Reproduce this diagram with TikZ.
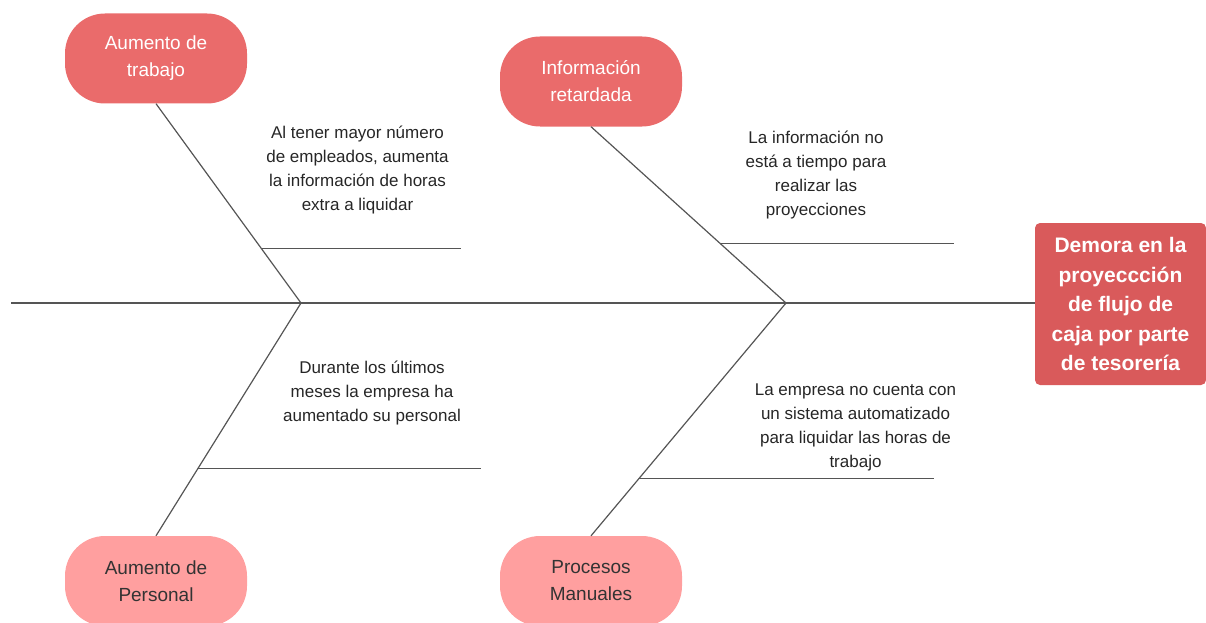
\documentclass[tikz,border=0pt]{standalone}
\usepackage{fontspec}
\setmainfont{Liberation Sans}
\usetikzlibrary{calc}
\definecolor{causetop}{HTML}{EA6B6B}
\definecolor{causebot}{HTML}{FF9F9F}
\definecolor{effectred}{HTML}{D95A5B}
\definecolor{boneline}{HTML}{555555}
\tikzset{
  bone/.style={draw=boneline,line width=1.2pt},
  causebox/.style={rectangle,rounded corners=40pt,minimum width=182pt,
    minimum height=90pt,align=center,inner sep=0pt,
    font=\fontsize{19}{27}\selectfont},
  causeup/.style={causebox,fill=causetop,text=white},
  causedown/.style={causebox,fill=causebot,text=black!80},
  effectbox/.style={rectangle,rounded corners=5pt,fill=effectred,text=white,
    minimum width=171pt,minimum height=162pt,align=center,inner sep=0pt,
    font=\bfseries\fontsize{21}{29.5}\selectfont},
  note/.style={align=center,text=black!85,inner sep=0pt,
    font=\fontsize{17}{24}\selectfont}
}
\begin{document}
\begin{tikzpicture}[x=1pt,y=-1pt]
  \useasboundingbox (0,0) rectangle (1206,623);
  % effect and spine
  \node[effectbox] (effect) at (1120.5,304) {Demora en la\\proyeccción\\de flujo de\\caja por parte\\de tesorería};
  \coordinate (tail) at (11,303);
  \coordinate (jl) at (301,303);
  \coordinate (jr) at (786,303);
  \draw[bone] (tail) -- (effect.west |- tail);
  % causes
  \node[causeup] (trabajo) at (156,58.5) {Aumento de\\trabajo};
  \node[causeup] (info) at (591,81.5) {Información\\retardada};
  \node[causedown] (personal) at (156,581) {Aumento de\\Personal};
  \node[causedown] (manual) at (591,581) {Procesos\\Manuales};
  % bones
  \draw[bone] (trabajo.south) -- (jl);
  \draw[bone] (info.south) -- (jr);
  \draw[bone] (jl) -- (personal.north);
  \draw[bone] (jr) -- (manual.north);
  % sub-bones
  \coordinate (s1) at ($(trabajo.south)!0.727!(jl)$);
  \coordinate (s2) at ($(info.south)!0.661!(jr)$);
  \coordinate (s3) at ($(jl)!0.712!(personal.north)$);
  \coordinate (s4) at ($(jr)!0.755!(manual.north)$);
  \coordinate (e1) at (461,0);
  \coordinate (e2) at (954,0);
  \coordinate (e3) at (481,0);
  \coordinate (e4) at (934,0);
  \draw[bone] (s1) -- (s1 -| e1);
  \draw[bone] (s2) -- (s2 -| e2);
  \draw[bone] (s3) -- (s3 -| e3);
  \draw[bone] (s4) -- (s4 -| e4);
  % notes
  \node[note] (n1) at (357.5,170) {Al tener mayor número\\de empleados, aumenta\\la información de horas\\extra a liquidar};
  \node[note] (n2) at (816,175) {La información no\\está a tiempo para\\realizar las\\proyecciones};
  \node[note] (n3) at (372,393) {Durante los últimos\\meses la empresa ha\\aumentado su personal};
  \node[note] (n4) at (855.5,427) {La empresa no cuenta con\\un sistema automatizado\\para liquidar las horas de\\trabajo};
\end{tikzpicture}
\end{document}
